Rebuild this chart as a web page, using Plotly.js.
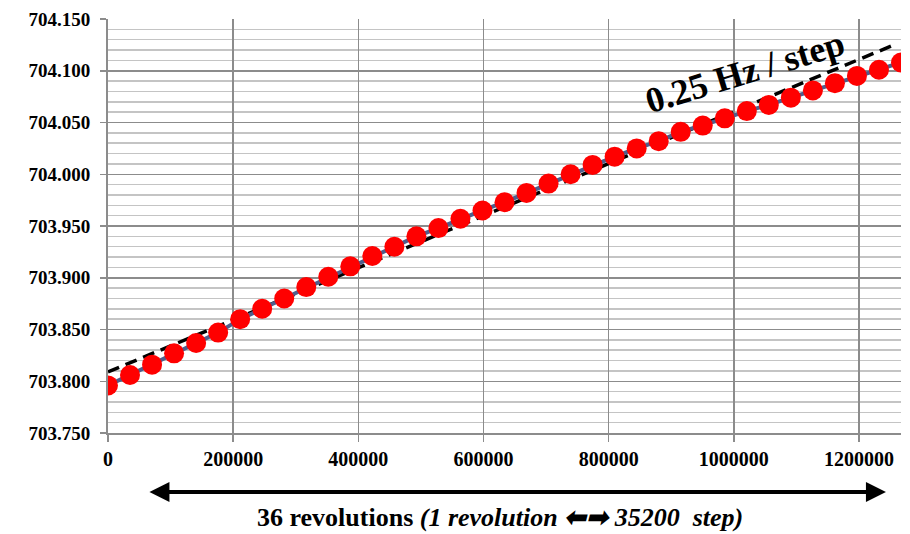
<!DOCTYPE html>
<html>
<head>
<meta charset="utf-8">
<script src="https://cdn.plot.ly/plotly-3.0.1.min.js"></script>
<style>html,body{margin:0;padding:0;background:#fff;}#chart{width:910px;height:534px;}</style>
</head>
<body>
<div id="chart"></div>
<script>
const stepPerRev = 35200;
const revolutions = [0,1,2,3,4,5,6,7,8,9,10,11,12,13,14,15,16,17,18,19,20,21,22,23,24,25,26,27,28,29,30,31,32,33,34,35,36];
const steps = revolutions.map(r => r * stepPerRev);
const freq = [703.796,703.806,703.816,703.827,703.837,703.847,703.860,703.870,703.880,703.891,
              703.901,703.911,703.921,703.930,703.940,703.948,703.957,703.965,703.973,703.982,
              703.991,704.000,704.009,704.017,704.025,704.032,704.041,704.047,704.054,704.061,
              704.067,704.074,704.081,704.088,704.095,704.101,704.108];
const trendX = [0, 1260000];
const trendY = [703.809, 704.126];
const yTicks = [703.75,703.80,703.85,703.90,703.95,704.00,704.05,704.10,704.15];
const xTicks = [0,200000,400000,600000,800000,1000000,1200000];

const serif = '"Liberation Serif", "Times New Roman", serif';

const traces = [
  {x: trendX, y: trendY, mode: 'lines', line: {color: '#000', width: 3.5, dash: '12px,7px'}, hoverinfo: 'skip'},
  {x: steps, y: freq, mode: 'lines+markers',
   line: {color: '#4F5E8C', width: 4},
   marker: {color: '#FF0000', size: 20}}
];

const layout = {
  width: 910, height: 534,
  margin: {l: 108, r: 9, t: 19, b: 101},
  paper_bgcolor: '#fff', plot_bgcolor: '#fff',
  showlegend: false,
  xaxis: {
    range: [0, 1267200], tickvals: xTicks, ticktext: xTicks.map(String),
    showgrid: true, gridcolor: '#8C8C8C', gridwidth: 1.5,
    showline: true, linecolor: '#8C8C8C', linewidth: 2,
    ticks: 'outside', ticklen: 7, tickcolor: '#8C8C8C', tickwidth: 1.5,
    zeroline: false,
    tickfont: {family: serif, size: 20, color: '#000', weight: 'bold'}
  },
  yaxis: {
    range: [703.75, 704.15], tickvals: yTicks, ticktext: yTicks.map(v => v.toFixed(3)),
    showgrid: true, gridcolor: '#8C8C8C', gridwidth: 1.5,
    minor: {dtick: 0.01, showgrid: true, gridcolor: '#C4C4C4', gridwidth: 1.5},
    showline: true, linecolor: '#8C8C8C', linewidth: 2,
    ticks: 'outside', ticklen: 6, tickcolor: '#8C8C8C', tickwidth: 1.5,
    ticklabelstandoff: 6,
    zeroline: false,
    tickfont: {family: serif, size: 19, color: '#000', weight: 'bold'}
  },
  annotations: [
    {xref: 'paper', yref: 'paper', x: 0.803, y: 0.872, xanchor: 'center', yanchor: 'middle',
     text: '<b>0.25 Hz / step</b>',
     textangle: -17, showarrow: false, font: {family: serif, size: 36, color: '#000'}},
    {xref: 'paper', yref: 'paper', x: 0.981, y: -0.1425, text: '', showarrow: true,
     axref: 'pixel', ayref: 'pixel', ax: -738, ay: 0, arrowside: 'end+start',
     arrowhead: 2, arrowsize: 1, arrowwidth: 4, arrowcolor: '#000', standoff: 0, startstandoff: 0},
    {xref: 'paper', yref: 'paper', x: 0.494, y: -0.205, xanchor: 'center', yanchor: 'middle', showarrow: false,
     text: '<b>36 revolutions <i>(1 revolution ⬅➡ 35200  step)</i></b>',
     font: {family: serif, size: 26, color: '#000'}}
  ]
};

Plotly.newPlot('chart', traces, layout, {displayModeBar: false, staticPlot: true});
</script>
</body>
</html>
